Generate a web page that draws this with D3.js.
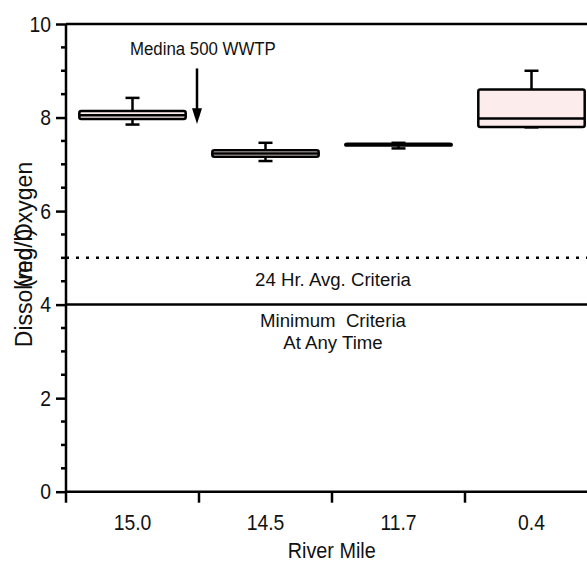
<!DOCTYPE html>
<html>
<head>
<meta charset="utf-8">
<script src="https://cdn.jsdelivr.net/npm/d3@7"></script>
<style>
  html, body { margin: 0; padding: 0; background: #fff; }
  svg text { font-family: "Liberation Sans", Arial, sans-serif; fill: #111; }
</style>
</head>
<body>
<div id="chart"></div>
<script>
// river mile stations, left to right
const categories = ["15.0", "14.5", "11.7", "0.4"];
// box statistics (mg/l)
const mins    = [7.85, 7.07, 7.34, 7.79];
const q1s     = [7.97, 7.16, 7.40, 7.80];
const medians = [8.05, 7.23, 7.42, 7.98];
const q3s     = [8.14, 7.30, 7.44, 8.60];
const maxs    = [8.42, 7.46, 7.46, 9.00];
// y ticks
const yTicks = [0, 2, 4, 6, 8, 10];
const yMinorTicks = [0.5, 1, 1.5, 2.5, 3, 3.5, 4.5, 5, 5.5, 6.5, 7, 7.5, 8.5, 9, 9.5];
// criteria lines
const avgCriteria = 5;
const minCriteria = 4;

const width = 587, height = 562;

const data = categories.map((c, i) => ({
  cat: c, min: mins[i], q1: q1s[i], med: medians[i], q3: q3s[i], max: maxs[i]
}));

const svg = d3.select("#chart").append("svg")
  .attr("width", width)
  .attr("height", height);

const x = d3.scaleBand().domain(categories).range([66, 598]).padding(0);
const y = d3.scaleLinear().domain([0, 10]).range([491.7, 24]);

const bw = x.bandwidth();
const boxW = bw * 0.8;
const capW = 14;

// top frame line
svg.append("line")
  .attr("x1", 66).attr("x2", width + 20)
  .attr("y1", y(10)).attr("y2", y(10))
  .attr("stroke", "#000").attr("stroke-width", 2.5);

// criteria lines
svg.append("line")
  .attr("x1", 66).attr("x2", width + 20)
  .attr("y1", y(avgCriteria)).attr("y2", y(avgCriteria))
  .attr("stroke", "#000").attr("stroke-width", 2.5)
  .attr("stroke-dasharray", "3,7");
svg.append("line")
  .attr("x1", 66).attr("x2", width + 20)
  .attr("y1", y(minCriteria)).attr("y2", y(minCriteria))
  .attr("stroke", "#000").attr("stroke-width", 2.5);

// y axis
const yAxis = svg.append("g")
  .attr("transform", "translate(66,0)")
  .call(d3.axisLeft(y).tickValues(yTicks).tickSize(10).tickSizeOuter(0).tickPadding(5));
yAxis.select(".domain").attr("stroke-width", 2.5)
  .attr("d", "M0," + y(10) + "V" + (y(0) + 11));
yAxis.selectAll(".tick line").attr("stroke-width", 2.5);
yAxis.selectAll(".tick text")
  .style("font-size", "22px")
  .attr("fill", "#111")
  .attr("transform", "scale(0.88,1)")
  .attr("x", -15 / 0.88);

svg.append("g")
  .attr("transform", "translate(66,0)")
  .selectAll("line")
  .data(yMinorTicks)
  .enter().append("line")
  .attr("x1", -5).attr("x2", 0)
  .attr("y1", d => y(d)).attr("y2", d => y(d))
  .attr("stroke", "#000").attr("stroke-width", 2.5);

// x axis
const xAxis = svg.append("g")
  .attr("transform", "translate(0," + y(0) + ")")
  .call(d3.axisBottom(x).tickSize(0).tickPadding(23));
xAxis.select(".domain").attr("stroke-width", 2.5)
  .attr("d", "M66,0H" + (width + 20));
xAxis.selectAll(".tick text")
  .style("font-size", "22px")
  .attr("fill", "#111")
  .attr("transform", "scale(0.88,1)");

// band boundary ticks
svg.append("g")
  .selectAll("line")
  .data(categories.slice(1).concat(["end"]))
  .enter().append("line")
  .attr("x1", d => d === "end" ? x.range()[1] : x(d))
  .attr("x2", d => d === "end" ? x.range()[1] : x(d))
  .attr("y1", y(0)).attr("y2", y(0) + 11)
  .attr("stroke", "#000").attr("stroke-width", 2.5);

// boxes
const box = svg.append("g").selectAll("g")
  .data(data).enter().append("g");

const cx = d => x(d.cat) + bw / 2;

box.append("line")
  .attr("x1", cx).attr("x2", cx)
  .attr("y1", d => y(d.q3)).attr("y2", d => y(d.max))
  .attr("stroke", "#000").attr("stroke-width", 2.5);
box.append("line")
  .attr("x1", cx).attr("x2", cx)
  .attr("y1", d => y(d.q1)).attr("y2", d => y(d.min))
  .attr("stroke", "#000").attr("stroke-width", 2.5);
box.append("line")
  .attr("x1", d => cx(d) - capW / 2).attr("x2", d => cx(d) + capW / 2)
  .attr("y1", d => y(d.max)).attr("y2", d => y(d.max))
  .attr("stroke", "#000").attr("stroke-width", 2.5);
box.append("line")
  .attr("x1", d => cx(d) - capW / 2).attr("x2", d => cx(d) + capW / 2)
  .attr("y1", d => y(d.min)).attr("y2", d => y(d.min))
  .attr("stroke", "#000").attr("stroke-width", 2.5);
box.append("rect")
  .attr("x", d => cx(d) - boxW / 2)
  .attr("width", boxW)
  .attr("y", d => y(d.q3))
  .attr("height", d => y(d.q1) - y(d.q3))
  .attr("rx", 2)
  .attr("fill", "#fcecec")
  .attr("stroke", "#000").attr("stroke-width", 2.5);
box.append("line")
  .attr("x1", d => cx(d) - boxW / 2).attr("x2", d => cx(d) + boxW / 2)
  .attr("y1", d => y(d.med)).attr("y2", d => y(d.med))
  .attr("stroke", "#000").attr("stroke-width", 2.5);

// annotation arrow
const ax = x(categories[1]) - 2;
svg.append("line")
  .attr("x1", ax).attr("x2", ax)
  .attr("y1", y(9.05)).attr("y2", y(8.1))
  .attr("stroke", "#000").attr("stroke-width", 2.5);
svg.append("path")
  .attr("d", "M" + (ax - 5) + "," + y(8.2) + "L" + (ax + 5) + "," + y(8.2) + "L" + ax + "," + y(7.86) + "Z")
  .attr("fill", "#000");

function label(txt, px, py, size, anchor, sx) {
  svg.append("text")
    .attr("transform", "translate(" + px + "," + py + ") scale(" + sx + ",1)")
    .attr("text-anchor", anchor)
    .style("font-size", size + "px")
    .style("white-space", "pre")
    .text(txt);
}

label("Medina 500 WWTP", 130, 55, 18.5, "start", 0.91);
label("24 Hr. Avg. Criteria", 333, 286, 19, "middle", 0.98);
label("Minimum  Criteria", 333, 326.5, 19, "middle", 0.98);
label("At Any Time", 333, 349, 19, "middle", 0.98);

// axis titles
label("River Mile", 331.7, 557.5, 22.5, "middle", 0.88);

svg.append("text")
  .attr("transform", "translate(31.7,254.5) rotate(-90)")
  .attr("text-anchor", "middle")
  .style("font-size", "23px")
  .text("Dissolved Oxygen");
svg.append("text")
  .attr("transform", "translate(31.7,258) rotate(-90)")
  .attr("text-anchor", "middle")
  .style("font-size", "23px")
  .text("(mg/l)");
</script>
</body>
</html>
